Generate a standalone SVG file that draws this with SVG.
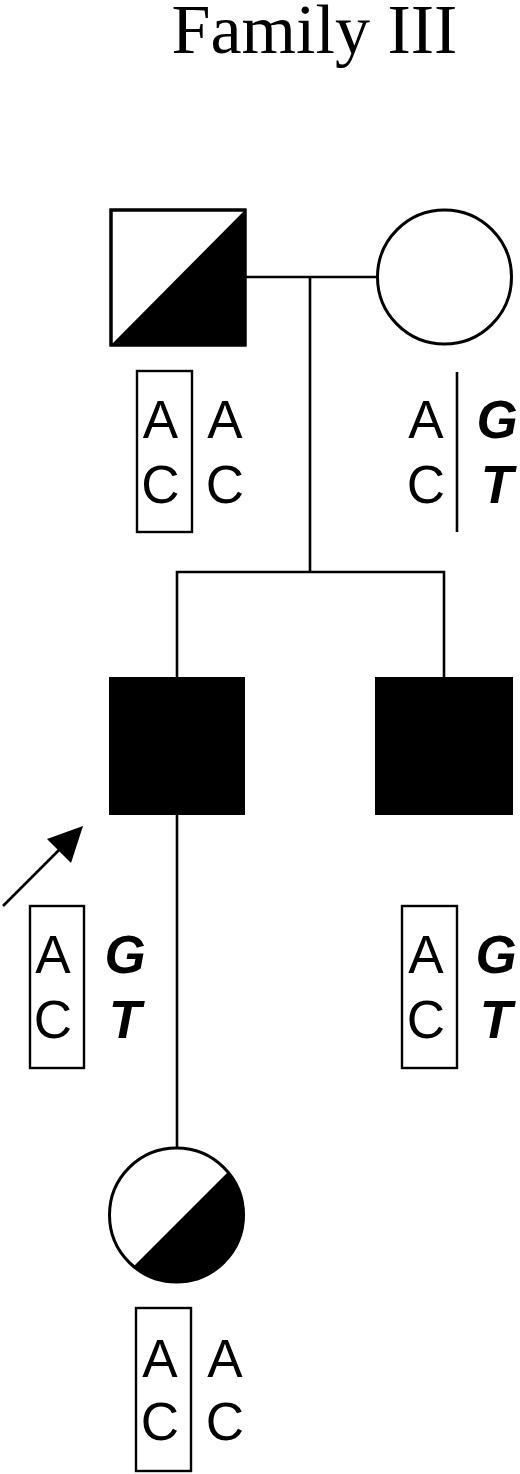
<svg xmlns="http://www.w3.org/2000/svg" width="520" height="1474" viewBox="0 0 520 1474">
<style>
.ln{stroke:#000;stroke-width:2.6;fill:none}
.sh{stroke:#000;stroke-width:3;fill:#fff}
.bx{stroke:#000;stroke-width:2.4;fill:none}
.t{font-family:"Liberation Sans",Arial,sans-serif;font-size:53px;fill:#000;text-anchor:middle}
.b{font-weight:bold;font-style:italic}
.title{font-family:"Liberation Serif","Times New Roman",serif;font-size:70px;fill:#000;text-anchor:middle}
</style>
<defs>
<clipPath id="cd"><circle cx="176.5" cy="1215" r="68"/></clipPath>
</defs>
<rect width="520" height="1474" fill="#fff"/>
<text class="title" x="314.5" y="53">Family III</text>
<g id="connectors">
<line class="ln" x1="245" y1="277" x2="377" y2="277"/>
<line class="ln" x1="310" y1="277" x2="310" y2="572"/>
<polyline class="ln" points="177,678 177,572 444,572 444,678"/>
<line class="ln" x1="177" y1="814" x2="177" y2="1147"/>
<g id="proband-arrow">
<line class="ln" x1="3" y1="906" x2="70" y2="839"/>
<polygon points="83,826 47,839 71,863" fill="#000"/>
</g>
</g>
<g id="father">
<rect class="sh" x="111" y="210" width="134" height="135"/>
<polygon points="111,345 245,210 245,345" fill="#000"/>
<rect class="sh" x="111" y="210" width="134" height="135" fill="none" style="fill:none"/>
<rect class="bx" x="137" y="371" width="55" height="161"/>
<text class="t" x="160.5" y="438">A</text>
<text class="t" x="160.5" y="503">C</text>
<text class="t" x="225" y="438">A</text>
<text class="t" x="225" y="503">C</text>
</g>
<g id="mother">
<circle class="sh" cx="444.5" cy="277" r="67"/>
<line class="ln" x1="457" y1="372" x2="457" y2="532"/>
<text class="t" x="426" y="438">A</text>
<text class="t" x="426" y="503">C</text>
<text class="t b" x="497" y="438">G</text>
<text class="t b" x="497" y="503">T</text>
</g>
<g id="proband">
<rect x="110" y="678" width="134" height="136" fill="#000" stroke="#000" stroke-width="2"/>
<rect class="bx" x="30" y="906" width="54" height="162"/>
<text class="t" x="53" y="973">A</text>
<text class="t" x="53" y="1038">C</text>
<text class="t b" x="125" y="973">G</text>
<text class="t b" x="125" y="1038">T</text>
</g>
<g id="brother">
<rect x="376" y="678" width="136" height="136" fill="#000" stroke="#000" stroke-width="2"/>
<rect class="bx" x="402" y="906" width="55" height="162"/>
<text class="t" x="426" y="973">A</text>
<text class="t" x="426" y="1038">C</text>
<text class="t b" x="496" y="973">G</text>
<text class="t b" x="496" y="1038">T</text>
</g>
<g id="daughter">
<circle cx="176.5" cy="1215" r="68" fill="#fff"/>
<polygon points="100,1300 260,1140 260,1300" fill="#000" clip-path="url(#cd)"/>
<circle class="ln" cx="176.5" cy="1215" r="67" style="stroke-width:3"/>
<rect class="bx" x="136" y="1308" width="55" height="163"/>
<text class="t" x="160" y="1377">A</text>
<text class="t" x="160" y="1440">C</text>
<text class="t" x="225" y="1377">A</text>
<text class="t" x="225" y="1440">C</text>
</g>
</svg>
